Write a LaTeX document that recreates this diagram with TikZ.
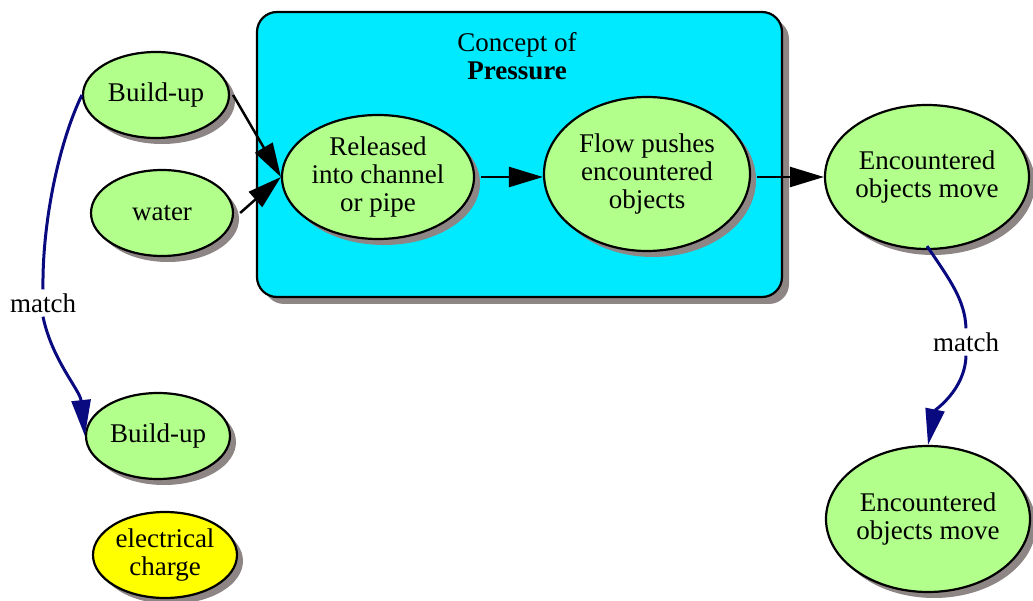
\documentclass[tikz,border=0pt]{standalone}
\usepackage{fontspec}
\setmainfont{Liberation Serif}
\usetikzlibrary{shapes.geometric,arrows.meta,shadows}
\definecolor{cgreen}{RGB}{178,255,140}
\definecolor{cyellow}{RGB}{255,255,0}
\definecolor{ccyan}{RGB}{0,234,255}
\definecolor{cshadow}{RGB}{142,133,133}
\definecolor{cnavy}{RGB}{10,10,128}
\begin{document}
\begin{tikzpicture}[x=1pt,y=-1pt,
  txt/.style={font=\fontsize{27}{28}\selectfont, align=center},
  concept/.style={txt, ellipse, draw=black, line width=2.2pt, fill=cgreen, inner sep=0pt,
    drop shadow={shadow xshift=6pt, shadow yshift=-6pt, fill=cshadow, opacity=1}},
  frame/.style={rectangle, rounded corners=20pt, draw=black, line width=2.2pt, fill=ccyan,
    minimum width=525pt, minimum height=285pt,
    drop shadow={shadow xshift=7pt, shadow yshift=-7pt, fill=cshadow, opacity=1}},
  linklabel/.style={txt, fill=white, inner sep=4pt},
  blkarrow/.style={line width=2.5pt, draw=black, -{Triangle[length=34pt,width=20pt]}},
  navyarrow/.style={line width=3pt, draw=cnavy, -{Triangle[length=36pt,width=19pt]}},
  navyline/.style={line width=3pt, draw=cnavy}
]
\path[use as bounding box] (0,0) rectangle (1033,601);

\node[frame] (box) at (519.5,154.5) {};
\node[txt] (title) at (517,56) {Concept of\\\textbf{Pressure}};

\node[concept, minimum width=146pt, minimum height=86pt] (bu1) at (156,95) {Build-up};
\node[concept, minimum width=142pt, minimum height=86pt] (water) at (162,213) {water};
\node[concept, minimum width=192pt, minimum height=124pt] (rel) at (378,177) {Released\\into channel\\or pipe};
\node[concept, minimum width=206pt, minimum height=154pt] (flow) at (647,174) {Flow pushes\\encountered\\objects};
\node[concept, minimum width=204pt, minimum height=144pt] (enc1) at (927,177) {Encountered\\objects move};
\node[concept, minimum width=204pt, minimum height=146pt] (enc2) at (928,519) {Encountered\\objects move};
\node[concept, minimum width=144pt, minimum height=86pt] (bu2) at (158,436) {Build-up};
\node[concept, fill=cyellow, minimum width=144pt, minimum height=86pt] (elec) at (165,555) {electrical\\charge};

\draw[blkarrow] ([xshift=3pt]bu1.east) -- (rel.west);
\draw[blkarrow] ([xshift=6pt]water.east) -- (rel.west);
\draw[blkarrow] ([xshift=6pt]rel.east) -- (flow.west |- rel.east);
\draw[blkarrow] ([xshift=6pt]flow.east |- enc1.west) -- (enc1.west);

\node[linklabel] (m1) at (43,303) {match};
\draw[navyline] (bu1.west) .. controls (60,140) and (42,220) .. (m1.north);
\draw[navyarrow] (m1.south) .. controls (52,360) and (80,390) .. (bu2.west);

\node[linklabel] (m2) at (966,342) {match};
\draw[navyline] ([yshift=4pt]enc1.south) .. controls (950,280) and (965,300) .. (m2.north);
\draw[navyarrow] (m2.south) .. controls (965,390) and (935,410) .. (enc2.north);
\end{tikzpicture}
\end{document}
